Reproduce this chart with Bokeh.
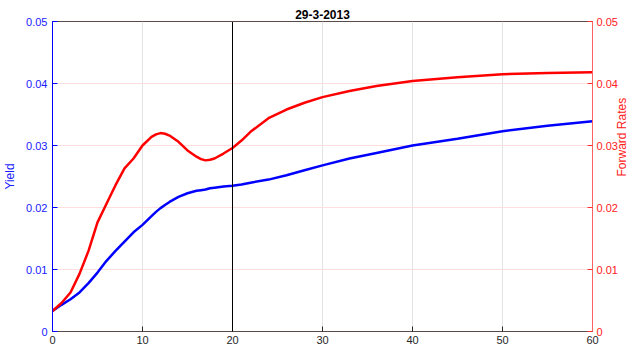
import math
from bokeh.plotting import figure
from bokeh.models import Range1d, LinearAxis, FixedTicker, Span
from bokeh.embed import file_html
from bokeh.resources import INLINE

maturity = [0, 1, 2, 3, 4, 5, 6, 7, 8, 9, 10, 11, 11.5, 12, 12.5, 13, 14, 15, 16, 16.5,
            17, 17.5, 18, 19, 20, 21, 22, 24, 26, 28, 30, 33, 36, 40, 45, 50, 55, 60]
yield_curve = [0.0033, 0.0043, 0.0052, 0.0063, 0.0078, 0.0095, 0.0114, 0.0130, 0.0145,
               0.0160, 0.0172, 0.0186, 0.0193, 0.0199, 0.0204, 0.0209, 0.0217, 0.0223,
               0.0227, 0.0228, 0.0229, 0.0231, 0.0232, 0.0234, 0.0235, 0.0237, 0.0240,
               0.0245, 0.0252, 0.0260, 0.0268, 0.0279, 0.0288, 0.0300, 0.0311, 0.0323,
               0.0332, 0.0339]
forward_rates = [0.0033, 0.0046, 0.0063, 0.0093, 0.0130, 0.0176, 0.0206, 0.0236, 0.0263,
                 0.0279, 0.0300, 0.0314, 0.0318, 0.0320, 0.0319, 0.0316, 0.0306, 0.0292,
                 0.0282, 0.0278, 0.0276, 0.0277, 0.0279, 0.0287, 0.0296, 0.0308, 0.0322,
                 0.0344, 0.0358, 0.0369, 0.0378, 0.0388, 0.0396, 0.0404, 0.0410, 0.0415,
                 0.0417, 0.0418]
x_ticks = [0, 10, 20, 30, 40, 50, 60]
y_ticks = [0, 0.01, 0.02, 0.03, 0.04, 0.05]
y_tick_labels = ["0", "0.01", "0.02", "0.03", "0.04", "0.05"]
title_text = "29-3-2013"
left_label = "Yield"
right_label = "Forward Rates"
marker_x = 20

FONT = "Liberation Sans"

p = figure(width=639, height=354, output_backend="svg", toolbar_location=None,
           x_range=Range1d(0, 60), y_range=Range1d(0, 0.05),
           min_border_left=52, min_border_right=47, min_border_top=21, min_border_bottom=23)
p.extra_y_ranges = {"fwd": Range1d(0, 0.05)}

p.title.text = title_text
p.title.align = "center"
p.title.text_font = FONT
p.title.text_font_size = "12px"
p.title.text_font_style = "bold"
p.title.text_color = "#000000"
p.title.offset = 0
p.title.standoff = 6

p.outline_line_color = "#5a4a4a"
p.background_fill_color = "white"
p.border_fill_color = "white"

# bottom axis
xa = p.xaxis[0]
xa.ticker = FixedTicker(ticks=x_ticks)
xa.axis_line_color = "#5a4a4a"
xa.major_tick_line_color = "#262626"
xa.major_tick_in = 5
xa.major_tick_out = 0
xa.minor_tick_line_color = None
xa.major_label_text_font = FONT
xa.major_label_text_font_size = "11px"
xa.major_label_text_color = "#262626"
xa.major_label_standoff = 4

# left axis
ya = p.yaxis[0]
ya.ticker = FixedTicker(ticks=y_ticks)
ya.major_label_overrides = {t: s for t, s in zip(y_ticks, y_tick_labels)}
ya.axis_line_color = "#0000ff"
ya.major_tick_line_color = "#0000ff"
ya.major_tick_in = 5
ya.major_tick_out = 0
ya.minor_tick_line_color = None
ya.major_label_text_font = FONT
ya.major_label_text_font_size = "11px"
ya.major_label_text_color = "#1a1aff"
ya.major_label_standoff = 5
ya.axis_label = left_label
ya.axis_label_text_font = FONT
ya.axis_label_text_font_size = "12px"
ya.axis_label_text_font_style = "normal"
ya.axis_label_text_color = "#1a1aff"
ya.axis_label_standoff = 6

# right axis
ra = LinearAxis(y_range_name="fwd", ticker=FixedTicker(ticks=y_ticks))
ra.major_label_overrides = {t: s for t, s in zip(y_ticks, y_tick_labels)}
ra.axis_line_color = "#ff6060"
ra.major_tick_line_color = "#ff3030"
ra.major_tick_in = 5
ra.major_tick_out = 0
ra.minor_tick_line_color = None
ra.major_label_text_font = FONT
ra.major_label_text_font_size = "11px"
ra.major_label_text_color = "#ff2020"
ra.major_label_standoff = 4
ra.axis_label = right_label
ra.axis_label_orientation = math.pi / 2
if "axis_label_align" in ra.properties():
    ra.axis_label_align = "center"
ra.axis_label_text_align = "center"
ra.axis_label_text_baseline = "middle"
ra.axis_label_text_font = FONT
ra.axis_label_text_font_size = "12px"
ra.axis_label_text_font_style = "normal"
ra.axis_label_text_color = "#ff2020"
ra.axis_label_standoff = 1
p.add_layout(ra, "right")

# grids
p.xgrid.ticker = FixedTicker(ticks=x_ticks)
p.xgrid.grid_line_color = "#e3e3e3"
p.ygrid.ticker = FixedTicker(ticks=y_ticks)
p.ygrid.grid_line_color = "#ffdede"

p.add_layout(Span(location=marker_x, dimension="height", line_color="#000000", line_width=1))

p.line(maturity, yield_curve, line_color="#0000ff", line_width=2.5)
p.line(maturity, forward_rates, line_color="#ff0000", line_width=2.5, y_range_name="fwd")

open("out.html", "w").write(file_html(p, INLINE))
